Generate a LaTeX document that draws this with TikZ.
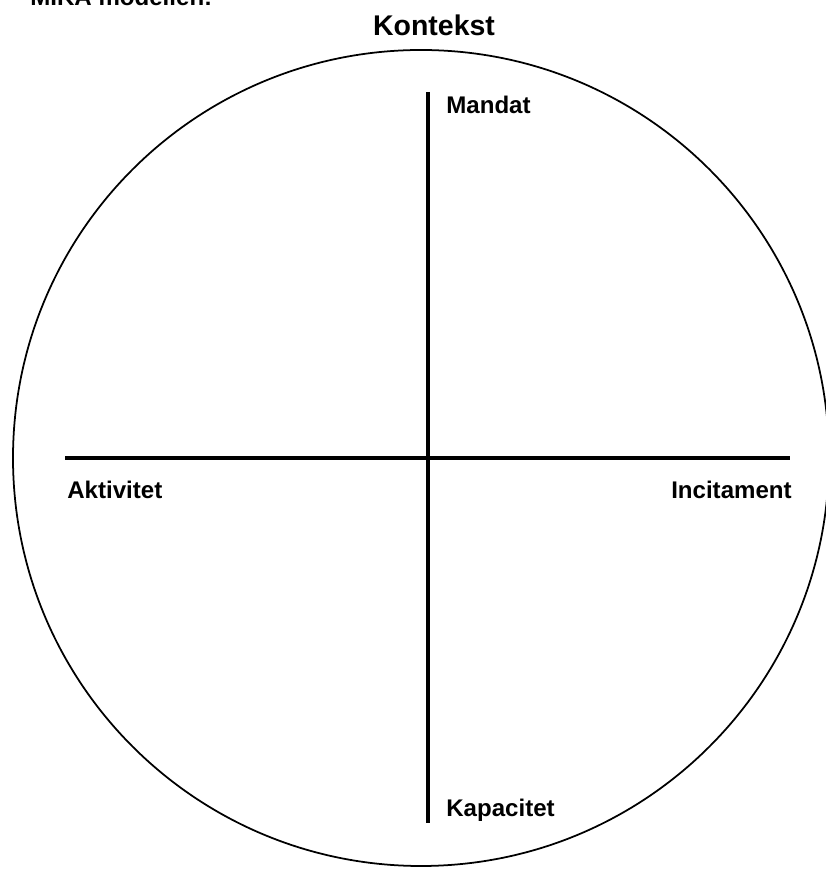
\documentclass[tikz,border=0pt]{standalone}
\usepackage{fontspec}
\setmainfont{Liberation Sans}
\begin{document}
\begin{tikzpicture}[black]
  \useasboundingbox (0,0) rectangle (16.5,17.38);
  \tikzset{
    axis/.style={line width=2.2pt},
    lbl/.style={font=\fontsize{13.7}{16}\selectfont\bfseries, inner sep=0pt},
  }
  \draw[line width=1pt](8.42,8.22) circle(8.16);
  \coordinate (top) at (8.56,15.54);
  \coordinate (bot) at (8.56,0.92);
  \coordinate (lft) at (1.3,8.22);
  \coordinate (rgt) at (15.8,8.22);
  \draw[axis](top)--(bot);
  \draw[axis](lft)--(rgt);
  \node[font=\fontsize{16.2}{19}\selectfont\bfseries, inner sep=0pt] (kontekst) at(8.68,16.88){Kontekst};
  \node[lbl, anchor=base west] (mika) at(0.6,17.26){MIKA modellen:};
  \node[lbl, anchor=west] (mandat) at(8.92,15.28){Mandat};
  \node[lbl, anchor=west] (aktivitet) at(1.34,7.58){Aktivitet};
  \node[lbl, anchor=east] (incitament) at(15.84,7.58){Incitament};
  \node[lbl, anchor=west] (kapacitet) at(8.92,1.18){Kapacitet};
\end{tikzpicture}
\end{document}
